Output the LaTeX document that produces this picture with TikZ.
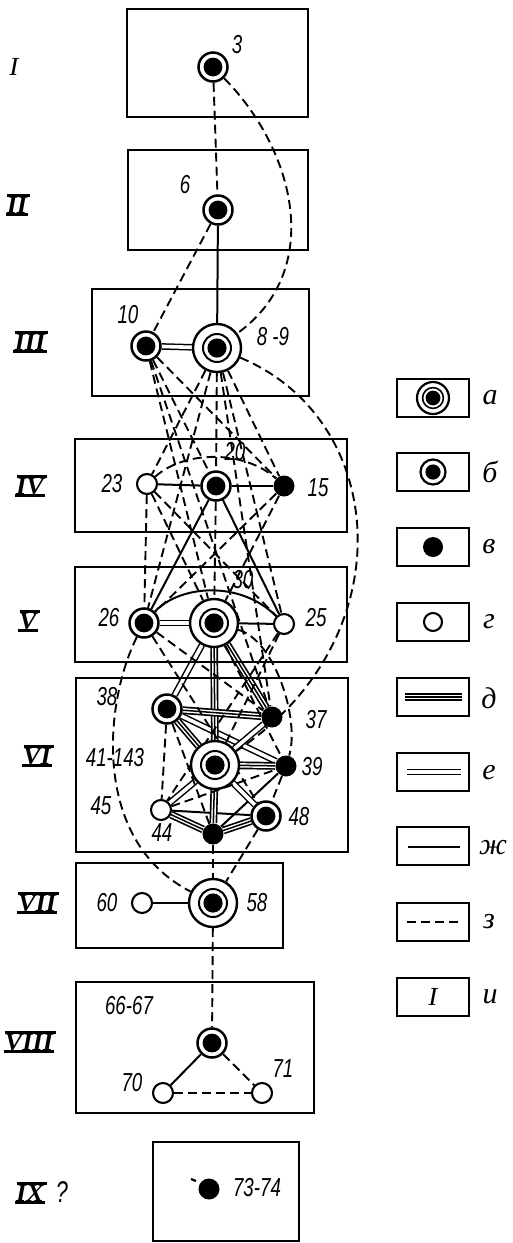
\documentclass[tikz,border=0pt]{standalone}
\usepackage{fontspec}
\newfontfamily\numf[FakeStretch=0.72]{Liberation Sans}
\newfontfamily\cyrf{Liberation Serif}
\newfontfamily\romf[FakeStretch=1.05]{Liberation Serif}
\pgfdeclarelayer{bg}
\pgfsetlayers{bg,main}
\begin{document}
\begin{tikzpicture}[x=0.5pt,y=-0.5pt,
  box/.style={draw,line width=1.2pt},
  nA/.style={circle,draw,line width=1.2pt,fill=white,minimum size=24pt,inner sep=0pt,
    path picture={\draw[black,line width=1pt] (path picture bounding box.center) circle[radius=7pt];
      \fill[black] (path picture bounding box.center) circle[radius=4.8pt];}},
  nB/.style={circle,draw,line width=1.25pt,fill=white,minimum size=14.5pt,inner sep=0pt,
    path picture={\fill[black] (path picture bounding box.center) circle[radius=4.7pt];}},
  nC/.style={circle,fill=black,minimum size=10.5pt,inner sep=0pt},
  nD/.style={circle,draw,line width=1.05pt,fill=white,minimum size=10pt,inner sep=0pt},
  lA/.style={circle,draw,line width=1.1pt,fill=white,minimum size=16pt,inner sep=0pt,
    path picture={\draw[black,line width=0.8pt] (path picture bounding box.center) circle[radius=5.2pt];
      \fill[black] (path picture bounding box.center) circle[radius=3.7pt];}},
  lB/.style={circle,draw,line width=1.1pt,fill=white,minimum size=12.5pt,inner sep=0pt,
    path picture={\fill[black] (path picture bounding box.center) circle[radius=3.8pt];}},
  lC/.style={circle,fill=black,minimum size=10pt,inner sep=0pt},
  lD/.style={circle,draw,line width=1.05pt,fill=white,minimum size=9pt,inner sep=0pt},
  sol/.style={line width=1pt},
  dsh/.style={line width=0.95pt,dash pattern=on 4.5pt off 2.5pt},
  dbl/.style={double,line width=0.75pt,double distance=1.8pt},
  tri/.style={line width=3.9pt,postaction={draw,white,line width=2.2pt},postaction={draw,black,line width=0.75pt}},
  lab/.style={font=\numf\itshape\fontsize{13}{15}\selectfont,inner sep=0pt},
  rom/.style={font=\romf\bfseries\itshape\fontsize{12.5}{14}\selectfont,inner sep=0.4pt},
  bar/.style={line width=1.4pt},
  leg/.style={font=\cyrf\itshape\fontsize{15}{17}\selectfont,inner sep=0pt}
]
\useasboundingbox (0,0) rectangle (513,1243);

% level boxes
\draw[box] (127,9) rectangle (308,117);
\draw[box] (128,150) rectangle (308,250);
\draw[box] (92,289) rectangle (309,396);
\draw[box] (75,439) rectangle (347,532);
\draw[box] (75,567) rectangle (347,662);
\draw[box] (76,678) rectangle (348,852);
\draw[box] (76,863) rectangle (283,948);
\draw[box] (76,982) rectangle (314,1113);
\draw[box] (153,1142) rectangle (299,1241);

% nodes
\node[nB] (n3) at (213,67) {};
\node[nB] (n6) at (218,210) {};
\node[nB] (n10) at (146,346) {};
\node[nA] (n89) at (217,348) {};
\node[nD] (n23) at (147,484) {};
\node[nB] (n20) at (216,486) {};
\node[nC] (n15) at (284,486) {};
\node[nB] (n26) at (144,623) {};
\node[nA] (n30) at (214,623) {};
\node[nD] (n25) at (284,624) {};
\node[nB] (n38) at (167,709) {};
\node[nC] (n37) at (272,717) {};
\node[nA] (n41) at (215,765) {};
\node[nC] (n39) at (286,766) {};
\node[nD] (n45) at (161,810) {};
\node[nB] (n48) at (266,816) {};
\node[nC] (n44) at (213,834) {};
\node[nA] (n58) at (213,903) {};
\node[nD] (n60) at (142,903) {};
\node[nB] (n66) at (212,1043) {};
\node[nD] (n70) at (163,1093) {};
\node[nD] (n71) at (262,1093) {};
\node[nC] (n73) at (209,1189) {};
\coordinate (t1) at (191,1179);
\coordinate (t2) at (196,1181);
\draw[line width=1.1pt] (t1) -- (t2);

% labels
\node[lab] (l3) at (237,45) {3};
\node[lab] (l6) at (185,185) {6};
\node[lab] (l10) at (128,315) {10};
\node[lab] (l89) at (273,337) {8 -9};
\node[lab] (l20) at (235,452) {20};
\node[lab] (l23) at (112,484) {23};
\node[lab] (l15) at (318,488) {15};
\node[lab] (l30) at (243,580) {30};
\node[lab] (l26) at (109,618) {26};
\node[lab] (l25) at (316,618) {25};
\node[lab] (l38) at (107,697) {38};
\node[lab] (l37) at (316,720) {37};
\node[lab] (l41) at (115,758) {41-143};
\node[lab] (l39) at (312,767) {39};
\node[lab] (l45) at (101,806) {45};
\node[lab] (l48) at (299,817) {48};
\node[lab] (l44) at (162,833) {44};
\node[lab] (l60) at (107,903) {60};
\node[lab] (l58) at (257,903) {58};
\node[lab] (l66) at (129,1006) {66-67};
\node[lab] (l70) at (132,1083) {70};
\node[lab] (l71) at (283,1069) {71};
\node[lab] (l73) at (257,1188) {73-74};
\node[lab,font=\numf\itshape\fontsize{15}{17}\selectfont] (lq) at (62,1192) {?};

% roman numerals
\node[rom,font=\romf\itshape\fontsize{13}{15}\selectfont] (r1) at (14,67) {I};
\foreach \n/\t/\x/\y in {r2/II/17/205, r3/III/30/342, r4/IV/30/486, r5/V/28/621, r6/VI/37/756, r7/VII/37/903, r8/VIII/29/1042, r9/IX/30/1193}{
  \node[rom] (\n) at (\x,\y) {\t};
  \draw[bar] ([xshift=0.8pt]\n.north west) -- ([xshift=0.8pt]\n.north east);
  \draw[bar] (\n.south west) -- (\n.south east);
}

% legend
\foreach \y in {379,453,528,603,678,753,827,903,978}{
  \draw[box] (397,\y) rectangle (469,\y+38);
}
\node[lA] (La) at (433,398) {};
\node[lB] (Lb) at (433,472) {};
\node[lC] (Lc) at (433,547) {};
\node[lD] (Ld) at (433,622) {};
\coordinate (de1) at (405,697); \coordinate (de2) at (462,697);
\coordinate (ee1) at (407,772); \coordinate (ee2) at (461,772);
\coordinate (zh1) at (408,847); \coordinate (zh2) at (460,847);
\coordinate (ze1) at (407,922); \coordinate (ze2) at (461,922);
\draw[tri] (de1) -- (de2);
\draw[dbl] (ee1) -- (ee2);
\draw[sol] (zh1) -- (zh2);
\draw[dsh] (ze1) -- (ze2);
\node[rom,font=\romf\itshape\fontsize{13}{15}\selectfont] (Li) at (433,997) {I};
\node[leg] (ta) at (490,398) {а};
\node[leg] (tb) at (490,472) {б};
\node[leg] (tc) at (489,547) {в};
\node[leg] (td) at (489,622) {г};
\node[leg] (te) at (489,698) {д};
\node[leg] (tf) at (489,773) {е};
\node[leg] (tg) at (493,848) {ж};
\node[leg] (th) at (489,922) {з};
\node[leg] (ti) at (490,997) {и};

\begin{pgfonlayer}{bg}
% solid
\draw[sol] (n6) -- (n89);
\draw[sol] (n23) -- (n20);
\draw[sol] (n20) -- (n15);
\draw[sol] (n20) -- (n26);
\draw[sol] (n20) -- (n25);
\draw[sol] (n30) -- (n25);
\draw[sol] (n26) .. controls (180,585) and (240,580) .. (n25);
\draw[sol] (n45) -- (n48);
\draw[sol] (n39) -- (n44);
\draw[sol] (n60) -- (n58);
\draw[sol] (n66) -- (n70);
% double
\draw[dbl] (n10) -- (n89);
\draw[dbl] (n26) -- (n30);
\draw[dbl] (n30) -- (n38);
\draw[dbl] (n38) -- (n39);
\draw[dbl] (n37) -- (n41);
\draw[dbl] (n41) -- (n45);
\draw[dbl] (n41) -- (n48);
% triple
\draw[tri] (n30) -- (n41);
\draw[tri] (n30) -- (n37);
\draw[tri] (n38) -- (n37);
\draw[tri] (n38) -- (n41);
\draw[tri] (n41) -- (n39);
\draw[tri] (n41) -- (n44);
\draw[tri] (n45) -- (n44);
\draw[tri] (n44) -- (n48);
% dashed
\draw[dsh] (n3) -- (n6);
\draw[dsh] (n6) -- (n10);
\draw[dsh] (n89) -- (n20);
\draw[dsh] (n20) -- (n30);
\draw[dsh] (n10) -- (n30);
\draw[dsh] (n10) -- (n37);
\draw[dsh] (n10) -- (n15);
\draw[dsh] (n10) -- (n20);
\draw[dsh] (n89) -- (n23);
\draw[dsh] (n89) -- (n26);
\draw[dsh] (n89) -- (n15);
\draw[dsh] (n89) -- (n25);
\draw[dsh] (n89) -- (n37);
\draw[dsh] (n23) -- (n26);
\draw[dsh] (n23) -- (n30);
\draw[dsh] (n23) -- (n25);
\draw[dsh] (n15) -- (n26);
\draw[dsh] (n15) -- (n30);
\draw[dsh] (n26) -- (n37);
\draw[dsh] (n26) -- (n48);
\draw[dsh] (n25) -- (n41);
\draw[dsh] (n25) -- (n45);
\draw[dsh] (n30) -- (n39);
\draw[dsh] (n38) -- (n45);
\draw[dsh] (n38) -- (n44);
\draw[dsh] (n45) -- (n39);
\draw[dsh] (n44) -- (n58);
\draw[dsh] (n39) -- (n48);
\draw[dsh] (n48) -- (n58);
\draw[dsh] (n58) -- (n66);
\draw[dsh] (n66) -- (n71);
\draw[dsh] (n70) -- (n71);
% dashed curves
\draw[dsh] (n3) .. controls (295,150) and (325,270) .. (n89);
\draw[dsh] (n89) .. controls (390,420) and (405,640) .. (n41);
\draw[dsh] (n23) .. controls (185,450) and (245,450) .. (n15);
\draw[dsh] (n26) .. controls (105,700) and (90,840) .. (n58);
\draw[dsh] (n30) .. controls (275,640) and (300,720) .. (n39);
\end{pgfonlayer}
\end{tikzpicture}
\end{document}
